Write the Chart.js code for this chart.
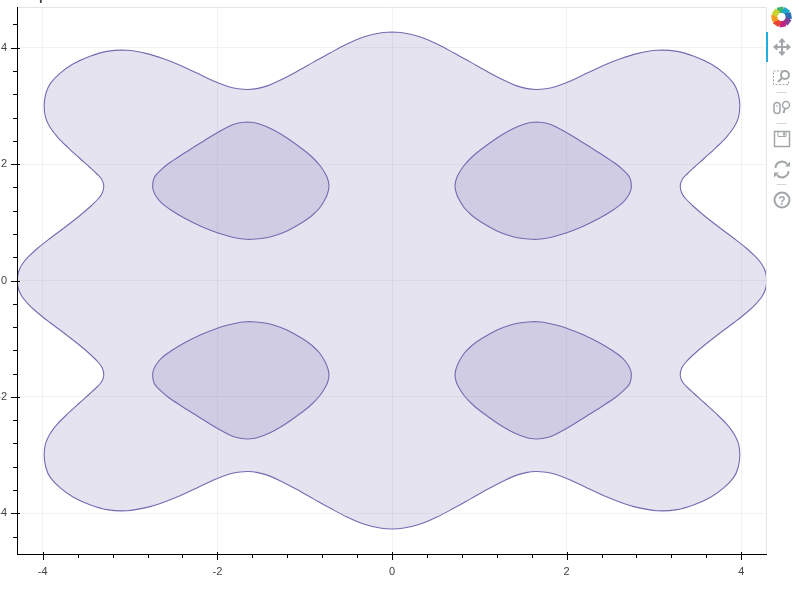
<!DOCTYPE html>
<html>
<head>
<meta charset="utf-8">
<title>contour</title>
<script src="https://cdn.jsdelivr.net/npm/chart.js@4"></script>
<style>
  html, body { margin: 0; padding: 0; background: #fff; overflow: hidden; }
  #wrap { position: relative; width: 799px; height: 596px; }
  #chart { position: absolute; left: 0; top: 0; }
  #toolbar { position: absolute; left: 0; top: 0; pointer-events: none; }
</style>
</head>
<body>
<div id="wrap">
  <canvas id="chart" width="799" height="596"></canvas>
  <svg id="toolbar" width="799" height="215" viewBox="0 0 799 215">
    <g id="logo"></g>
    <rect x="766" y="32" width="2" height="30" fill="#26aae1"/>
    <g fill="none" stroke="#a1a6a9" stroke-width="1.5">
      <!-- pan -->
      <path d="M782 39v16M774 47h16" stroke-width="2"/>
      <path d="M779 42l3-3.5 3 3.5zM779 52l3 3.5 3-3.5zM777 44l-3.5 3 3.5 3zM787 44l3.5 3-3.5 3z" fill="#a1a6a9" stroke-width="1"/>
      <!-- box zoom -->
      <path d="M786 71h-12.500v13.500h15v-4" stroke-dasharray="2 1.500" stroke-width="1"/>
      <circle cx="785" cy="75" r="4" stroke-width="2"/>
      <path d="M782 78l-4 4" stroke-width="2"/>
      <!-- wheel zoom -->
      <rect x="774" y="102.500" width="6" height="11" rx="3"/>
      <path d="M777 105v2" stroke-width="1"/>
      <circle cx="786" cy="105" r="3.500"/>
      <path d="M785 108.500l-1.500 4.500" stroke-width="2"/>
      <!-- save -->
      <rect x="774.500" y="131.500" width="15" height="15"/>
      <path d="M778 131.500v5h8v-5" stroke-width="1"/>
      <rect x="783" y="132.500" width="2" height="3" fill="#a1a6a9" stroke="none"/>
      <!-- reset -->
      <path d="M775.500 168a6.500 6.500 0 0 1 11.500-4" stroke-width="2"/>
      <path d="M788.500 171a6.500 6.500 0 0 1-11.500 4" stroke-width="2"/>
      <path d="M785 166.500h5v-5zM779 172.500h-5v5z" fill="#a1a6a9" stroke="none"/>
      <!-- help -->
      <circle cx="782" cy="200" r="7.500" stroke-width="2"/>
      <!-- separators -->
      <path d="M776.500 92.500h10M776.500 123.500h10M776.500 184.500h10" stroke="#d3d4d5" stroke-width="1"/>
    </g>
    <text x="782" y="204.500" text-anchor="middle" font-family="'Liberation Sans'" font-size="12" font-weight="bold" fill="#a1a6a9">?</text>
  </svg>
</div>
<script>
// outer contour, walked from the top middle round the left side and back
const outerX = [
  0, -0.137, -0.326, -0.515, -0.710, -0.899, -1.088, -1.283, -1.420, -1.535, -1.649, -1.764, -1.879, -2.050, -2.234, -2.428, -2.623, -2.806, -3.035, -3.265, -3.459, -3.654, -3.803, -3.912, -3.963, -3.983, -3.969, -3.918, -3.826, -3.711, -3.580, -3.459, -3.379, -3.328, -3.302, -3.316, -3.362, -3.448, -3.574, -3.765, -3.918, -4.049, -4.164, -4.238, -4.278, -4.291,
  -4.278, -4.238, -4.164, -4.049, -3.918, -3.765, -3.574, -3.448, -3.362, -3.316, -3.302, -3.328, -3.379, -3.459, -3.580, -3.711, -3.826, -3.918, -3.969, -3.983, -3.963, -3.912, -3.803, -3.654, -3.459, -3.265, -3.035, -2.806, -2.623, -2.428, -2.234, -2.050, -1.879, -1.764, -1.649, -1.535, -1.420, -1.283, -1.088, -0.899, -0.710, -0.515, -0.326, -0.137, 0,
  0.137, 0.326, 0.515, 0.710, 0.899, 1.088, 1.283, 1.420, 1.535, 1.649, 1.764, 1.879, 2.050, 2.234, 2.428, 2.623, 2.806, 3.035, 3.265, 3.459, 3.654, 3.803, 3.912, 3.963, 3.983, 3.969, 3.918, 3.826, 3.711, 3.580, 3.459, 3.379, 3.328, 3.302, 3.316, 3.362, 3.448, 3.574, 3.765, 3.918, 4.049, 4.164, 4.238, 4.278, 4.291,
  4.278, 4.238, 4.164, 4.049, 3.918, 3.765, 3.574, 3.448, 3.362, 3.316, 3.302, 3.328, 3.379, 3.459, 3.580, 3.711, 3.826, 3.918, 3.969, 3.983, 3.963, 3.912, 3.803, 3.654, 3.459, 3.265, 3.035, 2.806, 2.623, 2.428, 2.234, 2.050, 1.879, 1.764, 1.649, 1.535, 1.420, 1.283, 1.088, 0.899, 0.710, 0.515, 0.326, 0.137, 0
];
const outerY = [
  4.270, 4.253, 4.184, 4.065, 3.911, 3.753, 3.593, 3.440, 3.349, 3.301, 3.282, 3.296, 3.333, 3.431, 3.565, 3.699, 3.814, 3.899, 3.957, 3.938, 3.854, 3.720, 3.560, 3.388, 3.222, 3.015, 2.809, 2.637, 2.457, 2.285, 2.105, 1.942, 1.830, 1.744, 1.641, 1.512, 1.409, 1.280, 1.117, 0.893, 0.722, 0.567, 0.409, 0.275, 0.146, 0,
  -0.146, -0.275, -0.409, -0.567, -0.722, -0.893, -1.117, -1.280, -1.409, -1.512, -1.641, -1.744, -1.830, -1.942, -2.105, -2.285, -2.457, -2.637, -2.809, -3.015, -3.222, -3.388, -3.560, -3.720, -3.854, -3.938, -3.957, -3.899, -3.814, -3.699, -3.565, -3.431, -3.333, -3.296, -3.282, -3.301, -3.349, -3.440, -3.593, -3.753, -3.911, -4.065, -4.184, -4.253, -4.270,
  -4.253, -4.184, -4.065, -3.911, -3.753, -3.593, -3.440, -3.349, -3.301, -3.282, -3.296, -3.333, -3.431, -3.565, -3.699, -3.814, -3.899, -3.957, -3.938, -3.854, -3.720, -3.560, -3.388, -3.222, -3.015, -2.809, -2.637, -2.457, -2.285, -2.105, -1.942, -1.830, -1.744, -1.641, -1.512, -1.409, -1.280, -1.117, -0.893, -0.722, -0.567, -0.409, -0.275, -0.146, 0,
  0.146, 0.275, 0.409, 0.567, 0.722, 0.893, 1.117, 1.280, 1.409, 1.512, 1.641, 1.744, 1.830, 1.942, 2.105, 2.285, 2.457, 2.637, 2.809, 3.015, 3.222, 3.388, 3.560, 3.720, 3.854, 3.938, 3.957, 3.899, 3.814, 3.699, 3.565, 3.431, 3.333, 3.296, 3.282, 3.301, 3.349, 3.440, 3.593, 3.753, 3.911, 4.065, 4.184, 4.253, 4.270
];

// inner contours (four islands)
const islandLeftX = [-1.661, -1.558, -1.455, -1.340, -1.203, -1.019, -0.916, -0.825, -0.762, -0.733, -0.722, -0.733, -0.762, -0.825, -0.916, -1.019, -1.203, -1.340, -1.455, -1.558, -1.661, -1.764, -1.879, -1.993, -2.184, -2.375, -2.528, -2.643, -2.711, -2.738, -2.741, -2.735, -2.715, -2.661, -2.566, -2.413, -2.222, -2.085, -1.947, -1.833, -1.741, -1.661];
const islandRightX = [1.661, 1.558, 1.455, 1.340, 1.203, 1.019, 0.916, 0.825, 0.762, 0.733, 0.722, 0.733, 0.762, 0.825, 0.916, 1.019, 1.203, 1.340, 1.455, 1.558, 1.661, 1.764, 1.879, 1.993, 2.184, 2.375, 2.528, 2.643, 2.711, 2.738, 2.741, 2.735, 2.715, 2.661, 2.566, 2.413, 2.222, 2.085, 1.947, 1.833, 1.741, 1.661];
const islandTopY = [2.723, 2.706, 2.655, 2.572, 2.448, 2.251, 2.122, 1.976, 1.830, 1.727, 1.624, 1.521, 1.409, 1.254, 1.117, 1.005, 0.851, 0.773, 0.730, 0.713, 0.708, 0.725, 0.765, 0.816, 0.930, 1.070, 1.208, 1.338, 1.469, 1.572, 1.632, 1.710, 1.790, 1.881, 2.002, 2.156, 2.337, 2.466, 2.586, 2.672, 2.710, 2.723];
const islandBottomY = [-2.723, -2.706, -2.655, -2.572, -2.448, -2.251, -2.122, -1.976, -1.830, -1.727, -1.624, -1.521, -1.409, -1.254, -1.117, -1.005, -0.851, -0.773, -0.730, -0.713, -0.708, -0.725, -0.765, -0.816, -0.930, -1.070, -1.208, -1.338, -1.469, -1.572, -1.632, -1.710, -1.790, -1.881, -2.002, -2.156, -2.337, -2.466, -2.586, -2.672, -2.710, -2.723];

// tick positions, labels only on the majors
const xTicks = [-4, -3.6, -3.2, -2.8, -2.4, -2, -1.6, -1.2, -0.8, -0.4, 0, 0.4, 0.8, 1.2, 1.6, 2, 2.4, 2.8, 3.2, 3.6, 4];
const yTicks = [-4.4, -4, -3.6, -3.2, -2.8, -2.4, -2, -1.6, -1.2, -0.8, -0.4, 0, 0.4, 0.8, 1.2, 1.6, 2, 2.4, 2.8, 3.2, 3.6, 4, 4.4];
const majorTicks = [-4, -2, 0, 2, 4];

const titleText = 'p'; // only the descender of the title is left on the page

const lineColor = '#756bb1';
const fillColor = 'rgba(117,107,177,0.19)';
const gridColor = 'rgba(229,229,229,0.5)';

function toPoints(xs, ys) {
  return xs.map((x, i) => ({ x: x, y: ys[i] }));
}

function contour(xs, ys) {
  return {
    data: toPoints(xs, ys),
    showLine: true,
    tension: 0.35,
    borderColor: lineColor,
    borderWidth: 1.1,
    backgroundColor: fillColor,
    pointRadius: 0,
    fill: false
  };
}

const isMajor = v => majorTicks.includes(v);

// closed shapes: fill each dataset along the path of its own line
const contourFill = {
  id: 'contourFill',
  beforeDatasetDraw(chart, args) {
    const ctx = chart.ctx;
    const line = args.meta.dataset;
    line.updateControlPoints(chart.chartArea);
    ctx.save();
    ctx.beginPath();
    line.path(ctx);
    ctx.closePath();
    ctx.fillStyle = chart.data.datasets[args.index].backgroundColor;
    ctx.fill();
    ctx.restore();
  }
};

// frame and the bokeh style ticks (majors cross the axis line, minors only go out)
const axisFrame = {
  id: 'axisFrame',
  afterDraw(chart) {
    const ctx = chart.ctx;
    const a = chart.chartArea;
    ctx.save();
    ctx.lineWidth = 1;
    ctx.strokeStyle = '#e5e5e5';
    ctx.beginPath();
    ctx.moveTo(a.left, a.top + 0.5);
    ctx.lineTo(a.right - 0.5, a.top + 0.5);
    ctx.lineTo(a.right - 0.5, a.bottom);
    ctx.stroke();

    ctx.strokeStyle = '#000';
    ctx.beginPath();
    ctx.moveTo(a.left + 0.5, a.top);
    ctx.lineTo(a.left + 0.5, a.bottom + 1);
    ctx.moveTo(a.left, a.bottom + 0.5);
    ctx.lineTo(a.right, a.bottom + 0.5);
    xTicks.forEach(v => {
      const p = Math.round(chart.scales.x.getPixelForValue(v)) + 0.5;
      ctx.moveTo(p, isMajor(v) ? a.bottom - 2 : a.bottom);
      ctx.lineTo(p, a.bottom + (isMajor(v) ? 6 : 4));
    });
    yTicks.forEach(v => {
      const p = Math.round(chart.scales.y.getPixelForValue(v)) + 0.5;
      ctx.moveTo(a.left + (isMajor(v) ? 3 : 0), p);
      ctx.lineTo(a.left - (isMajor(v) ? 6 : 4), p);
    });
    ctx.stroke();

    ctx.fillStyle = '#444444';
    ctx.font = "bold 13px 'Liberation Sans'";
    ctx.textBaseline = 'alphabetic';
    ctx.fillText(titleText, 39, 0);
    ctx.restore();
  }
};

new Chart(document.getElementById('chart').getContext('2d'), {
  type: 'scatter',
  data: {
    datasets: [
      contour(islandLeftX, islandTopY),
      contour(islandRightX, islandTopY),
      contour(islandLeftX, islandBottomY),
      contour(islandRightX, islandBottomY),
      contour(outerX, outerY)
    ]
  },
  plugins: [contourFill, axisFrame],
  options: {
    responsive: false,
    animation: false,
    layout: { autoPadding: false, padding: { top: 7, right: 32, left: 0, bottom: 0 } },
    plugins: { legend: { display: false }, tooltip: { enabled: false } },
    scales: {
      x: {
        type: 'linear',
        min: -4.295,
        max: 4.295,
        afterBuildTicks: s => { s.ticks = xTicks.map(v => ({ value: v })); },
        afterFit: s => { s.height = 42; s.paddingLeft = 0; s.paddingRight = 0; },
        border: { display: false },
        grid: {
          drawTicks: false,
          lineWidth: 1,
          color: c => (isMajor(c.tick.value) ? gridColor : 'rgba(0,0,0,0)')
        },
        ticks: {
          autoSkip: false,
          maxRotation: 0,
          padding: 11,
          color: '#444444',
          font: { family: "'Liberation Sans'", size: 11 },
          callback: v => (isMajor(v) ? String(v) : '')
        }
      },
      y: {
        type: 'linear',
        min: -4.7,
        max: 4.7,
        afterBuildTicks: s => { s.ticks = yTicks.map(v => ({ value: v })); },
        // no room for half a label at the ends, the frame starts right under the title
        afterFit: s => { s.width = 17; s.paddingTop = 0; s.paddingBottom = 0; },
        border: { display: false },
        grid: {
          drawTicks: false,
          lineWidth: 1,
          color: c => (isMajor(c.tick.value) ? gridColor : 'rgba(0,0,0,0)')
        },
        ticks: {
          autoSkip: false,
          padding: 10,
          color: '#444444',
          font: { family: "'Liberation Sans'", size: 11 },
          callback: v => (isMajor(v) ? String(v) : '')
        }
      }
    }
  }
});

// bokeh logo: a ring of coloured blocks
const logoColors = ['#3db36b', '#1fa7c9', '#2b6fb5', '#7d3f98', '#c2217f', '#e8442f', '#f59b22', '#c8d32e'];
const logo = document.getElementById('logo');
logoColors.forEach((c, i) => {
  const block = document.createElementNS('http://www.w3.org/2000/svg', 'rect');
  block.setAttribute('x', 778.5);
  block.setAttribute('y', 7);
  block.setAttribute('width', 6.5);
  block.setAttribute('height', 6);
  block.setAttribute('fill', c);
  block.setAttribute('transform', `rotate(${i * 45 - 10} 781.5 17)`);
  logo.appendChild(block);
});
</script>
</body>
</html>
